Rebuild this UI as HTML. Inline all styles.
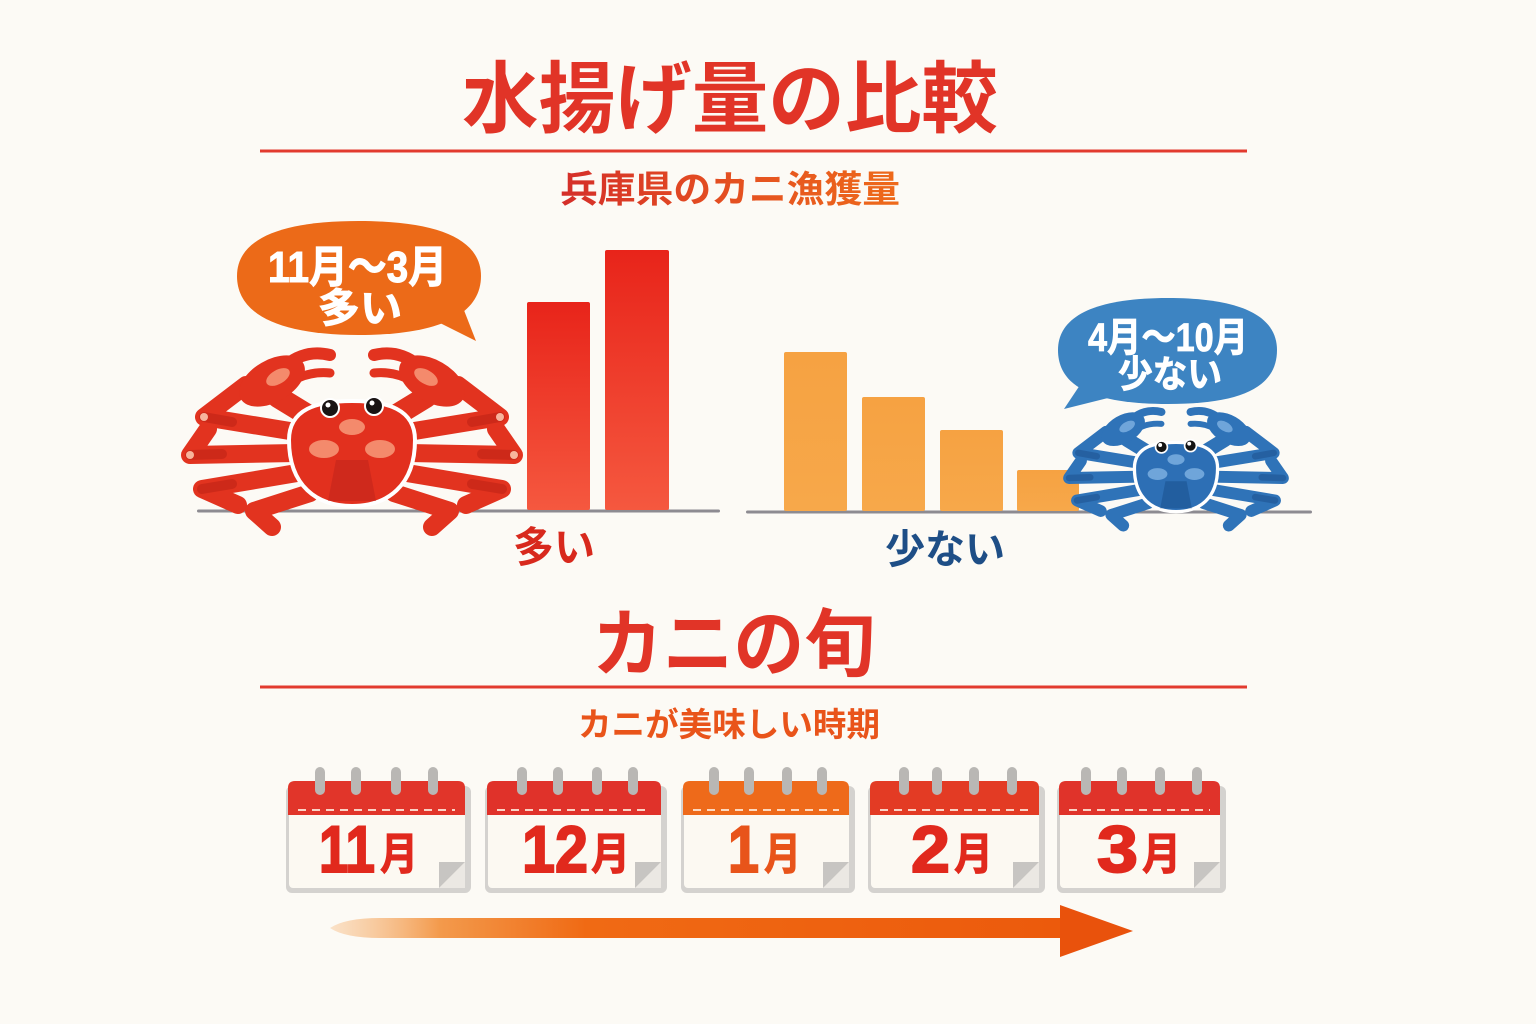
<!DOCTYPE html>
<html><head><meta charset="utf-8"><style>
html,body{margin:0;padding:0;background:#fcfaf5;}
svg{display:block;}
text{font-family:"Liberation Sans","Noto Sans CJK JP",sans-serif;font-weight:bold;}
</style></head><body>
<svg width="1536" height="1024" viewBox="0 0 1536 1024" xmlns="http://www.w3.org/2000/svg">
<defs>
  <linearGradient id="redBar" x1="0" y1="0" x2="0" y2="1">
    <stop offset="0" stop-color="#e8241a"/><stop offset="1" stop-color="#f5583f"/>
  </linearGradient>
  <linearGradient id="orBar" x1="0" y1="0" x2="0" y2="1">
    <stop offset="0" stop-color="#f6a242"/><stop offset="1" stop-color="#f7a84a"/>
  </linearGradient>
  <linearGradient id="sub1" gradientUnits="userSpaceOnUse" x1="560" y1="0" x2="900" y2="0">
    <stop offset="0" stop-color="#d42e29"/><stop offset="0.4" stop-color="#e24a22"/><stop offset="1" stop-color="#ee6a1a"/>
  </linearGradient>
  <linearGradient id="shaft" gradientUnits="userSpaceOnUse" x1="330" y1="0" x2="1062" y2="0">
    <stop offset="0" stop-color="#f8c99a" stop-opacity="0.5"/>
    <stop offset="0.15" stop-color="#f39a4c"/>
    <stop offset="0.35" stop-color="#f06a14"/>
    <stop offset="1" stop-color="#ec5a0c"/>
  </linearGradient>
  <radialGradient id="shL" cx="0.5" cy="0" r="0.5">
    <stop offset="0" stop-color="#efdfca"/><stop offset="0.7" stop-color="#f3e7d7"/><stop offset="1" stop-color="#fcfaf5" stop-opacity="0"/>
  </radialGradient>
  <radialGradient id="shR" cx="0.5" cy="0" r="0.5">
    <stop offset="0" stop-color="#cfe3f0"/><stop offset="0.7" stop-color="#dcebf4"/><stop offset="1" stop-color="#fcfaf5" stop-opacity="0"/>
  </radialGradient>
  <clipPath id="belowL"><rect x="0" y="511" width="1536" height="100"/></clipPath>

  <g id="crabHalf">
    <g fill="none" stroke-linecap="round" stroke-linejoin="round" stroke-width="18">
      <path d="M-50,-22 L-148,-38 L-106,-70"/>
      <path d="M-56,-2 L-162,0 L-144,-26"/>
      <path d="M-55,18 L-150,34 L-114,50"/>
      <path d="M-42,38 L-98,56 L-80,72"/>
      <path d="M-38,-36 L-74,-58" stroke-width="22"/>
      <path d="M-66,-90 Q-46,-106 -22,-100" stroke-width="12"/>
      <path d="M-60,-74 Q-42,-84 -22,-82" stroke-width="9"/>
    </g>
    <ellipse cx="-80" cy="-74" rx="36" ry="21" transform="rotate(-30 -80 -74)" stroke="none"/>
  </g>
  <g id="crabLegs">
    <use href="#crabHalf"/>
    <use href="#crabHalf" transform="scale(-1,1)"/>
  </g>
  <path id="crabBody" d="M-63,-15 C-63,-46 -35,-54 0,-54 C35,-54 63,-46 63,-15 C63,31 35,51 0,51 C-35,51 -63,31 -63,-15 Z"/>
  <g id="legShadeHalf" fill="none" stroke-linecap="round" stroke-width="10" opacity="0.35">
    <path d="M-120,-33 L-148,-38"/>
    <path d="M-130,-1 L-162,0"/>
    <path d="M-120,29 L-150,34"/>
  </g>
  <g id="legShade"><use href="#legShadeHalf"/><use href="#legShadeHalf" transform="scale(-1,1)"/></g>
</defs>

<!-- Title -->
<text x="462" y="126" font-size="78" fill="#e13427" textLength="536" lengthAdjust="spacingAndGlyphs">水揚げ量の比較</text>
<rect x="260" y="149.5" width="987" height="3" fill="#e23a2e"/>
<text x="560" y="202" font-size="37" fill="url(#sub1)" textLength="340" lengthAdjust="spacingAndGlyphs">兵庫県のカニ漁獲量</text>

<!-- Shadows -->
<g clip-path="url(#belowL)">
  <ellipse cx="462" cy="511" rx="240" ry="58" fill="url(#shL)"/>
  <ellipse cx="1025" cy="512" rx="270" ry="56" fill="url(#shR)"/>
</g>

<!-- Baselines -->
<rect x="197" y="509.5" width="523" height="3" rx="1.5" fill="#8d8b91"/>
<rect x="746" y="510.5" width="566" height="3" rx="1.5" fill="#8d8b91"/>

<!-- Red bars -->
<rect x="527" y="302" width="63" height="208" rx="2" fill="url(#redBar)"/>
<rect x="605" y="250" width="64" height="260" rx="2" fill="url(#redBar)"/>

<!-- Orange bars -->
<rect x="784" y="352" width="63" height="159" rx="2" fill="url(#orBar)"/>
<rect x="862" y="397" width="63" height="114" rx="2" fill="url(#orBar)"/>
<rect x="940" y="430" width="63" height="81" rx="2" fill="url(#orBar)"/>
<rect x="1017" y="470" width="62" height="41" rx="2" fill="url(#orBar)"/>

<!-- Labels -->
<text x="513" y="562" font-size="42" fill="#d8291d" textLength="82" lengthAdjust="spacingAndGlyphs">多い</text>
<text x="885" y="563" font-size="40" fill="#1e4e86" textLength="120" lengthAdjust="spacingAndGlyphs">少ない</text>

<!-- Orange bubble -->
<path d="M359,221 C440,221 481,240 481,276 C481,314 440,335 359,335 C278,335 237,314 237,276 C237,240 278,221 359,221 Z" fill="#ec6a18"/>
<path d="M438,322 L476,341 L460,300 Z" fill="#ec6a18"/>
<text x="268" y="282" font-size="44" fill="#ffffff" stroke="#ffffff" stroke-width="1" textLength="179" lengthAdjust="spacingAndGlyphs">11月～3月</text>
<text x="318" y="322" font-size="40" fill="#ffffff" stroke="#ffffff" stroke-width="1" textLength="84" lengthAdjust="spacingAndGlyphs">多い</text>

<!-- Blue bubble -->
<path d="M1168,298 C1245,298 1277,318 1277,350 C1277,388 1240,404 1168,404 C1096,404 1058,388 1058,350 C1058,318 1091,298 1168,298 Z" fill="#3d84c2"/>
<path d="M1082,382 L1064,409 L1112,397 Z" fill="#3d84c2"/>
<text x="1088" y="351" font-size="40" fill="#ffffff" stroke="#ffffff" stroke-width="0.8" textLength="160" lengthAdjust="spacingAndGlyphs">4月～10月</text>
<text x="1118" y="387" font-size="37" fill="#ffffff" stroke="#ffffff" stroke-width="0.8" textLength="104" lengthAdjust="spacingAndGlyphs">少ない</text>

<!-- Red crab -->
<g transform="translate(352,455)">
  <use href="#crabLegs" stroke="#e2331f" fill="#e2331f"/>
  <use href="#legShade" stroke="#a8180f"/>
  <use href="#crabBody" fill="#e2301e" stroke="#ffffff" stroke-width="4"/>
  <path d="M-16,5 L16,5 L24,46 L-24,46 Z" fill="#b9221a" opacity="0.45"/>
  <ellipse cx="-28" cy="-6" rx="15" ry="9" fill="#f48a6c"/>
  <ellipse cx="28" cy="-6" rx="15" ry="9" fill="#f48a6c"/>
  <ellipse cx="0" cy="-28" rx="13" ry="8" fill="#f48a6c"/>
  <ellipse cx="-74" cy="-78" rx="13" ry="7" fill="#f48a6c" transform="rotate(-30 -74 -78)"/>
  <ellipse cx="74" cy="-78" rx="13" ry="7" fill="#f48a6c" transform="rotate(30 74 -78)"/>
  <circle cx="-148" cy="-38" r="4" fill="#f7b49c"/>
  <circle cx="148" cy="-38" r="4" fill="#f7b49c"/>
  <circle cx="-162" cy="0" r="4" fill="#f7b49c"/>
  <circle cx="162" cy="0" r="4" fill="#f7b49c"/>
  <circle cx="-22" cy="-47" r="9" fill="#1a1414" stroke="#fff" stroke-width="2"/>
  <circle cx="22" cy="-49" r="9" fill="#1a1414" stroke="#fff" stroke-width="2"/>
  <circle cx="-24" cy="-50" r="2.5" fill="#fff"/>
  <circle cx="20" cy="-52" r="2.5" fill="#fff"/>
</g>

<!-- Blue crab -->
<g transform="translate(1176,478) scale(0.66)">
  <use href="#crabLegs" stroke="#2f73b8" fill="#2f73b8"/>
  <use href="#legShade" stroke="#133f78"/>
  <use href="#crabBody" fill="#2d6fb5" stroke="#ffffff" stroke-width="5"/>
  <path d="M-16,5 L16,5 L24,46 L-24,46 Z" fill="#174a85" opacity="0.45"/>
  <ellipse cx="-28" cy="-6" rx="15" ry="9" fill="#6fa5da"/>
  <ellipse cx="28" cy="-6" rx="15" ry="9" fill="#6fa5da"/>
  <ellipse cx="0" cy="-28" rx="13" ry="8" fill="#6fa5da"/>
  <ellipse cx="-74" cy="-78" rx="13" ry="7" fill="#6fa5da" transform="rotate(-30 -74 -78)"/>
  <ellipse cx="74" cy="-78" rx="13" ry="7" fill="#6fa5da" transform="rotate(30 74 -78)"/>
  <circle cx="-22" cy="-47" r="9" fill="#141414" stroke="#fff" stroke-width="2.5"/>
  <circle cx="22" cy="-49" r="9" fill="#141414" stroke="#fff" stroke-width="2.5"/>
  <circle cx="-24" cy="-50" r="3" fill="#fff"/>
  <circle cx="20" cy="-52" r="3" fill="#fff"/>
</g>

<!-- Section 2 title -->
<text x="592" y="670" font-size="74" fill="#e13427" textLength="283" lengthAdjust="spacingAndGlyphs">カニの旬</text>
<rect x="260" y="685.5" width="987" height="3" fill="#e23a2e"/>
<text x="578" y="736" font-size="33" fill="#e9541a" textLength="302" lengthAdjust="spacingAndGlyphs">カニが美味しい時期</text>

<!-- Calendars -->
<!-- cal1 -->
<g>
  <rect x="286" y="786" width="185" height="107" rx="6" fill="#d4d2cf"/>
  <rect x="289" y="786" width="176" height="102" rx="4" fill="#fcf9f2"/>
  <path d="M288,815 V788 Q288,781 295,781 H458 Q465,781 465,788 V815 Z" fill="#e1352a"/>
  <line x1="298" y1="810" x2="455" y2="810" stroke="#fad3c6" stroke-width="2" stroke-dasharray="8 6"/>
  <g fill="#b9b7b4"><rect x="315" y="767" width="10" height="28" rx="5"/><rect x="351" y="767" width="10" height="28" rx="5"/><rect x="391" y="767" width="10" height="28" rx="5"/><rect x="428" y="767" width="10" height="28" rx="5"/></g>
  <path d="M465,862 V888 H439 Z" fill="#ebe8e3"/>
  <path d="M439,862 H465 L439,888 Z" fill="#c7c5c2"/>
  <text x="319" y="872" font-size="66" fill="#e1291d" stroke="#e1291d" stroke-width="2" textLength="56" lengthAdjust="spacingAndGlyphs">11</text>
  <text x="380" y="869" font-size="44" fill="#e1291d" stroke="#e1291d" stroke-width="1" textLength="38" lengthAdjust="spacingAndGlyphs">月</text>
</g>
<!-- cal2 -->
<g>
  <rect x="485" y="786" width="182" height="107" rx="6" fill="#d4d2cf"/>
  <rect x="488" y="786" width="173" height="102" rx="4" fill="#fcf9f2"/>
  <path d="M487,815 V788 Q487,781 494,781 H654 Q661,781 661,788 V815 Z" fill="#e0322a"/>
  <line x1="497" y1="810" x2="651" y2="810" stroke="#fad3c6" stroke-width="2" stroke-dasharray="8 6"/>
  <g fill="#b9b7b4"><rect x="517" y="767" width="10" height="28" rx="5"/><rect x="553" y="767" width="10" height="28" rx="5"/><rect x="592" y="767" width="10" height="28" rx="5"/><rect x="628" y="767" width="10" height="28" rx="5"/></g>
  <path d="M661,862 V888 H635 Z" fill="#ebe8e3"/>
  <path d="M635,862 H661 L635,888 Z" fill="#c7c5c2"/>
  <text x="522" y="872" font-size="66" fill="#e1291d" stroke="#e1291d" stroke-width="2" textLength="66" lengthAdjust="spacingAndGlyphs">12</text>
  <text x="591" y="869" font-size="44" fill="#e1291d" stroke="#e1291d" stroke-width="1" textLength="39" lengthAdjust="spacingAndGlyphs">月</text>
</g>
<!-- cal3 -->
<g>
  <rect x="681" y="786" width="174" height="107" rx="6" fill="#d4d2cf"/>
  <rect x="684" y="786" width="165" height="102" rx="4" fill="#fcf9f2"/>
  <path d="M683,815 V788 Q683,781 690,781 H842 Q849,781 849,788 V815 Z" fill="#ee6a1a"/>
  <line x1="693" y1="810" x2="839" y2="810" stroke="#fcd9c0" stroke-width="2" stroke-dasharray="8 6"/>
  <g fill="#b9b7b4"><rect x="709" y="767" width="10" height="28" rx="5"/><rect x="744" y="767" width="10" height="28" rx="5"/><rect x="782" y="767" width="10" height="28" rx="5"/><rect x="817" y="767" width="10" height="28" rx="5"/></g>
  <path d="M849,862 V888 H823 Z" fill="#ebe8e3"/>
  <path d="M823,862 H849 L823,888 Z" fill="#c7c5c2"/>
  <text x="728" y="872" font-size="66" fill="#e8541a" stroke="#e8541a" stroke-width="2" textLength="31" lengthAdjust="spacingAndGlyphs">1</text>
  <text x="764" y="869" font-size="44" fill="#e8541a" stroke="#e8541a" stroke-width="1" textLength="37" lengthAdjust="spacingAndGlyphs">月</text>
</g>
<!-- cal4 -->
<g>
  <rect x="868" y="786" width="177" height="107" rx="6" fill="#d4d2cf"/>
  <rect x="871" y="786" width="168" height="102" rx="4" fill="#fcf9f2"/>
  <path d="M870,815 V788 Q870,781 877,781 H1032 Q1039,781 1039,788 V815 Z" fill="#e33b24"/>
  <line x1="880" y1="810" x2="1029" y2="810" stroke="#fad3c6" stroke-width="2" stroke-dasharray="8 6"/>
  <g fill="#b9b7b4"><rect x="899" y="767" width="10" height="28" rx="5"/><rect x="932" y="767" width="10" height="28" rx="5"/><rect x="969" y="767" width="10" height="28" rx="5"/><rect x="1007" y="767" width="10" height="28" rx="5"/></g>
  <path d="M1039,862 V888 H1013 Z" fill="#ebe8e3"/>
  <path d="M1013,862 H1039 L1013,888 Z" fill="#c7c5c2"/>
  <text x="911" y="872" font-size="66" fill="#e1291d" stroke="#e1291d" stroke-width="2" textLength="39" lengthAdjust="spacingAndGlyphs">2</text>
  <text x="954" y="869" font-size="44" fill="#e1291d" stroke="#e1291d" stroke-width="1" textLength="39" lengthAdjust="spacingAndGlyphs">月</text>
</g>
<!-- cal5 -->
<g>
  <rect x="1057" y="786" width="169" height="107" rx="6" fill="#d4d2cf"/>
  <rect x="1060" y="786" width="160" height="102" rx="4" fill="#fcf9f2"/>
  <path d="M1059,815 V788 Q1059,781 1066,781 H1213 Q1220,781 1220,788 V815 Z" fill="#e0332a"/>
  <line x1="1069" y1="810" x2="1210" y2="810" stroke="#fad3c6" stroke-width="2" stroke-dasharray="8 6"/>
  <g fill="#b9b7b4"><rect x="1081" y="767" width="10" height="28" rx="5"/><rect x="1117" y="767" width="10" height="28" rx="5"/><rect x="1155" y="767" width="10" height="28" rx="5"/><rect x="1192" y="767" width="10" height="28" rx="5"/></g>
  <path d="M1220,862 V888 H1194 Z" fill="#ebe8e3"/>
  <path d="M1194,862 H1220 L1194,888 Z" fill="#c7c5c2"/>
  <text x="1097" y="872" font-size="66" fill="#e1291d" stroke="#e1291d" stroke-width="2" textLength="41" lengthAdjust="spacingAndGlyphs">3</text>
  <text x="1142" y="869" font-size="44" fill="#e1291d" stroke="#e1291d" stroke-width="1" textLength="39" lengthAdjust="spacingAndGlyphs">月</text>
</g>

<!-- Arrow -->
<path d="M330,928 Q345,918 380,918 L1064,918 L1064,938 L380,938 Q345,938 330,928 Z" fill="url(#shaft)"/>
<path d="M1060,905 L1133,931 L1060,957 Z" fill="#e9520c"/>
</svg>
</body></html>
